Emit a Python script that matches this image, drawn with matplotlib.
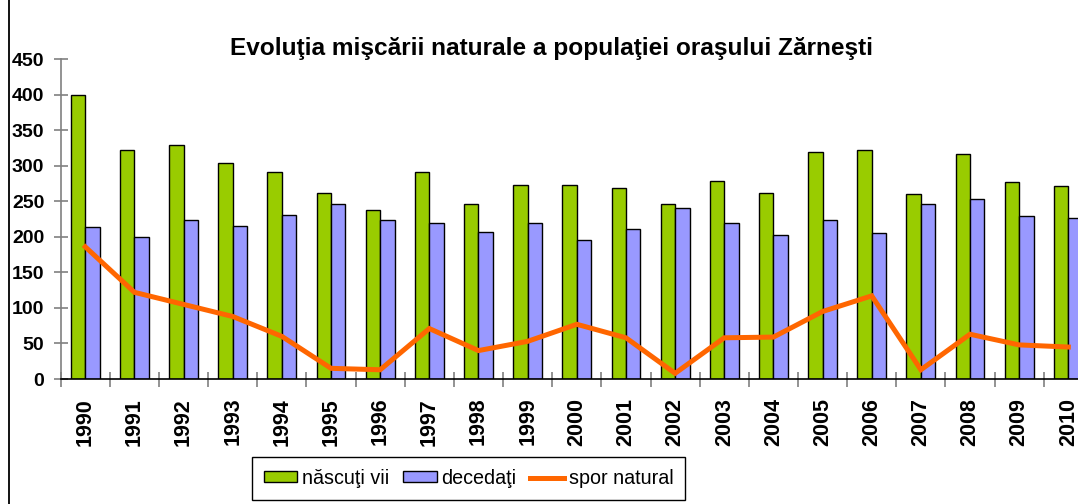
import matplotlib
matplotlib.use("Agg")
import matplotlib.pyplot as plt
from matplotlib.patches import Rectangle
from matplotlib.lines import Line2D
import numpy as np

years = [str(y) for y in range(1990, 2011)]
nascuti = [400, 322, 329, 304, 291, 262, 238, 291, 247, 273, 273, 269, 247, 278, 262, 319, 322, 260, 317, 277, 271]
decedati = [214, 200, 224, 216, 231, 247, 224, 220, 207, 220, 196, 211, 240, 220, 203, 224, 205, 247, 254, 229, 226]
spor = [186, 122, 105, 88, 60, 15, 13, 71, 40, 53, 77, 58, 8, 58, 59, 95, 117, 13, 63, 48, 45]
yticks = [0, 50, 100, 150, 200, 250, 300, 350, 400, 450]

plt.rcParams['font.family'] = ['Liberation Sans', 'DejaVu Sans']

W, H = 1078, 504
fig = plt.figure(figsize=(W / 100, H / 100), dpi=100)
ax = fig.add_axes([60.7 / W, 1 - 379 / H, (1092.9 - 60.7) / W, (379 - 59.3) / H])

x = np.arange(len(years))
bw = 0.294
ax.bar(x - bw / 2, nascuti, width=bw, color='#99CC00', edgecolor='black', linewidth=1.0, zorder=2)
ax.bar(x + bw / 2, decedati, width=bw, color='#9999FF', edgecolor='black', linewidth=1.0, zorder=2)
ax.plot(x, spor, color='#FF6600', linewidth=3.6, zorder=3, solid_joinstyle='miter')

ax.set_xlim(-0.5, len(years) - 0.5)
ax.set_ylim(0, 450)
ax.set_yticks(yticks)
ax.set_yticklabels([str(v) for v in yticks], fontsize=14, fontweight='bold')
ax.set_xticks(np.arange(-0.5, len(years)), labels=[''] * (len(years) + 1))
ax.set_xticks(x, labels=years, minor=True)
ax.tick_params(axis='x', which='major', direction='inout', length=10.8, color='#808080', width=1.2)
ax.tick_params(axis='x', which='minor', length=0, pad=13.5)
for lab in ax.get_xticklabels(minor=True):
    lab.set_rotation(90)
    lab.set_fontsize(15.5)
    lab.set_fontweight('bold')
ax.tick_params(axis='y', direction='inout', length=9.6, color='#808080', width=1.2, pad=7)

for s in ['top', 'right']:
    ax.spines[s].set_visible(False)
ax.spines['left'].set_color('#808080')
ax.spines['left'].set_linewidth(1.2)
ax.spines['bottom'].set_color('black')
ax.spines['bottom'].set_linewidth(1.2)

fig.text(551.5 / W, 1 - 55 / H, 'Evoluţia mişcării naturale a populaţiei oraşului Zărneşti',
         ha='center', va='baseline', fontsize=17.6, fontweight='bold')

frame = Rectangle((8.5 / W, -0.2), 1.2, 1.2 + (1 - 14 / H), transform=fig.transFigure,
                  fill=False, edgecolor='black', linewidth=1.3)
fig.add_artist(frame)

handles = [Rectangle((0, 0), 1, 1, facecolor='#99CC00', edgecolor='black', linewidth=1.0),
           Rectangle((0, 0), 1, 1, facecolor='#9999FF', edgecolor='black', linewidth=1.0),
           Line2D([0], [0], color='#FF6600', linewidth=3.6)]
leg = fig.legend(handles, ['născuţi vii', 'decedaţi', 'spor natural'], loc='upper left',
                 bbox_to_anchor=(251.7 / W, 1 - 457 / H), ncol=3, fontsize=14.2,
                 frameon=True, fancybox=False, edgecolor='black', framealpha=1,
                 handlelength=1.7, handleheight=0.5, handletextpad=0.25, columnspacing=0.7,
                 borderpad=0.6, borderaxespad=0)
leg.get_frame().set_linewidth(1.0)

fig.savefig('out.png', dpi=100)
